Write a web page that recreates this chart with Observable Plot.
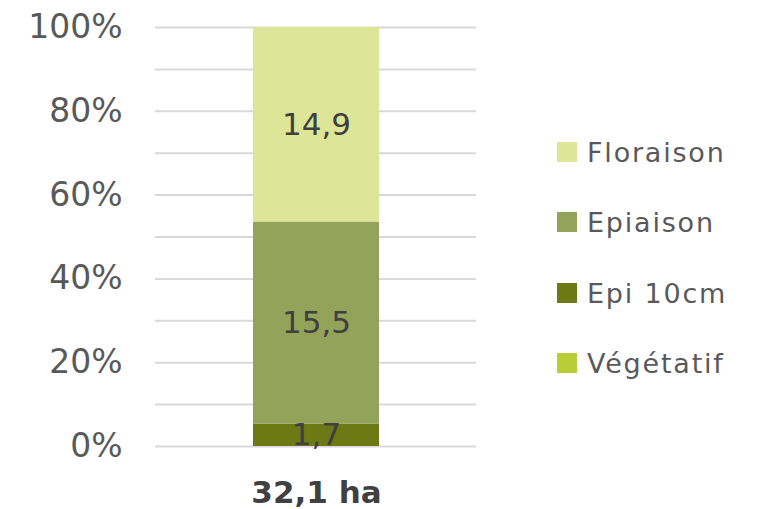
<!DOCTYPE html>
<html>
<head>
<meta charset="utf-8">
<script src="https://cdn.jsdelivr.net/npm/d3@7"></script>
<script src="https://cdn.jsdelivr.net/npm/@observablehq/plot@0.6"></script>
<style>
  html, body { margin: 0; padding: 0; background: #fff; }
  #wrap { position: relative; width: 757px; height: 509px; font-family: "DejaVu Sans", sans-serif; }
  #legend { position: absolute; left: 557px; top: 0; }
  .item { position: absolute; left: 0; display: flex; align-items: center; white-space: nowrap;
          font-size: 27px; letter-spacing: 1.8px; color: #595959; height: 30px; }
  .sw { width: 20px; height: 20px; margin-right: 10px; flex: none; }
</style>
</head>
<body>
<div id="wrap"><div id="legend"></div></div>
<script>
const category = "32,1 ha";
const stages = ["Végétatif", "Epi 10cm", "Epiaison", "Floraison"];
const hectares = [0, 1.7, 15.5, 14.9];
const colors = ["#b8ce37", "#6b7a14", "#94a35a", "#dde696"];
const yTicks = [0, 0.2, 0.4, 0.6, 0.8, 1];
const gridTicks = [0, 0.1, 0.2, 0.3, 0.4, 0.5, 0.6, 0.7, 0.8, 0.9, 1];
const legendCenters = [363, 293, 222, 152];

const data = stages.map((s, i) => ({cat: category, stage: s, ha: hectares[i]}));
const fmt = v => v.toFixed(1).replace(".", ",");

const chart = Plot.plot({
  width: 757,
  height: 509,
  marginLeft: 155,
  marginRight: 281,
  marginTop: 27,
  marginBottom: 63,
  style: {fontFamily: "DejaVu Sans, sans-serif", color: "#595959", background: "#fff"},
  x: {domain: [category], padding: 0.436, label: null},
  y: {domain: [0, 1], label: null},
  color: {domain: stages, range: colors},
  marks: [
    Plot.ruleY(gridTicks, {stroke: "#d9d9d9", strokeWidth: 2}),
    Plot.barY(data, Plot.stackY({offset: "normalize"}, {x: "cat", y: "ha", fill: "stage"})),
    Plot.text(data, Plot.stackY({offset: "normalize"}, {
      x: "cat", y: "ha", text: d => d.ha > 0 ? fmt(d.ha) : "",
      fontSize: 31, fill: "#3f3f3f"
    })),
    Plot.axisY({ticks: yTicks, tickFormat: d3.format(".0%"), tickSize: 0, tickPadding: 33,
                fontSize: 33, fill: "#595959", label: null}),
    Plot.axisX({tickSize: 0, tickPadding: 34, fontSize: 31, fontWeight: "bold",
                fill: "#404040", label: null})
  ]
});
document.getElementById("wrap").prepend(chart);

const legend = document.getElementById("legend");
stages.forEach((s, i) => {
  const item = document.createElement("div");
  item.className = "item";
  item.style.top = (legendCenters[i] - 15) + "px";
  const sw = document.createElement("div");
  sw.className = "sw";
  sw.style.background = colors[i];
  const label = document.createElement("span");
  label.textContent = s;
  item.append(sw, label);
  legend.append(item);
});
</script>
</body>
</html>
